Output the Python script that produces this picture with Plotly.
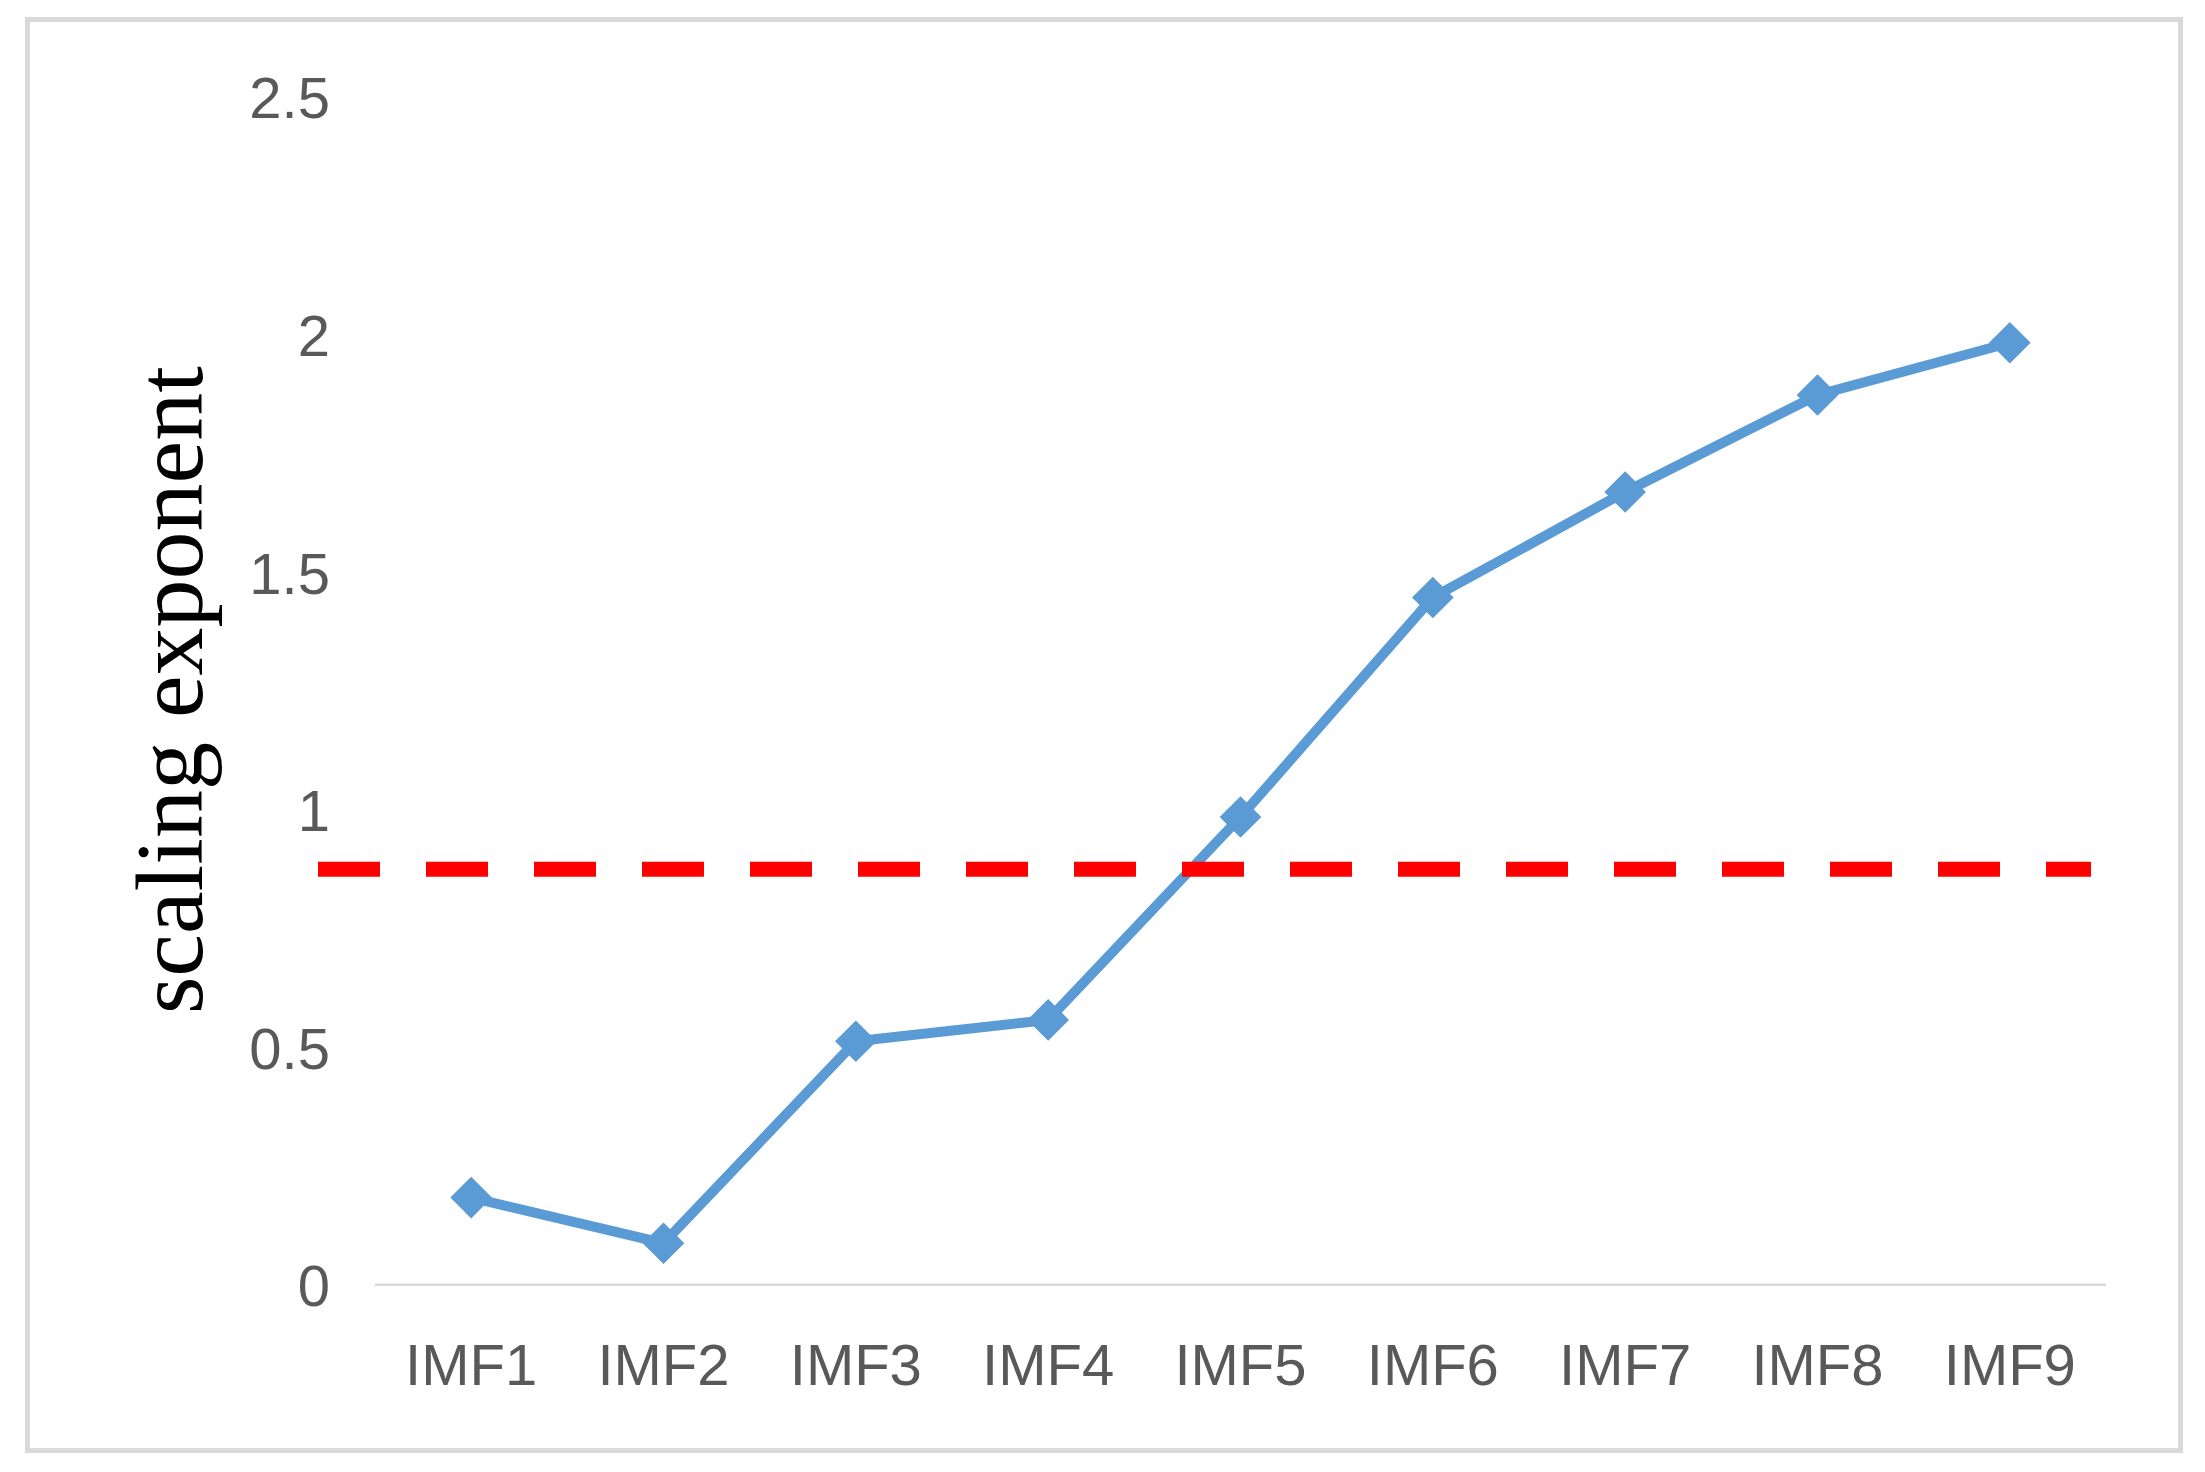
import plotly.graph_objects as go

# ---- data ----
categories = ["IMF1", "IMF2", "IMF3", "IMF4", "IMF5", "IMF6", "IMF7", "IMF8", "IMF9"]
scaling_exponent = [0.186, 0.090, 0.515, 0.560, 0.987, 1.449, 1.671, 1.875, 1.985]
threshold = [0.877]
y_tick_values = [0, 0.5, 1, 1.5, 2, 2.5]
y_tick_labels = ["0", "0.5", "1", "1.5", "2", "2.5"]

# ---- layout geometry (reference-page pixels) ----
OFF = 8  # default body margin of the page
W, H = 2205 - 2 * OFF, 1472 - 2 * OFF
PL, PR, PT, PB = 375 - OFF, 2106 - OFF, 98 - OFF, 1286 - OFF


def px_x(px):
    return (px - OFF - PL) / (PR - PL)


def px_y(py):
    return (PB - (py - OFF)) / (PB - PT)


fig = go.Figure()
fig.add_trace(go.Scatter(
    x=categories,
    y=scaling_exponent,
    mode="lines+markers",
    line=dict(color="#5b9bd5", width=10),
    marker=dict(symbol="diamond", size=32, color="#5b9bd5", line=dict(width=0)),
    showlegend=False,
))

shapes = [
    # x axis line at y = 0
    dict(type="line", xref="paper", yref="y", x0=0, x1=1, y0=0, y1=0,
         line=dict(color="#d9d9d9", width=5), layer="below"),
    # outer chart border
    dict(type="rect", xref="paper", yref="paper",
         x0=px_x(27.5), x1=px_x(2180.5), y0=px_y(1450.5), y1=px_y(19.5),
         line=dict(color="#d9d9d9", width=5), fillcolor="rgba(0,0,0,0)", layer="below"),
    # red dashed threshold line
    dict(type="line", xref="paper", yref="y", x0=px_x(318), x1=px_x(2091),
         y0=threshold[0], y1=threshold[0],
         line=dict(color="#ff0000", width=15, dash="62px,46px"), layer="above"),
]

fig.update_layout(
    width=W, height=H,
    margin=dict(l=PL, r=W - PR, t=PT, b=H - PB, pad=0),
    paper_bgcolor="white", plot_bgcolor="white",
    font=dict(family="Liberation Sans, Arial, sans-serif", size=58, color="#595959"),
    shapes=shapes,
    annotations=[dict(
        text="scaling exponent", textangle=-90, showarrow=False,
        xref="paper", yref="paper", x=px_x(169), y=px_y(690),
        xanchor="center", yanchor="middle",
        font=dict(family="Liberation Serif, Times New Roman, serif", size=96, color="black"),
    )],
)
fig.update_xaxes(
    type="category", range=[-0.5, 8.5], showgrid=False, zeroline=False,
    showline=False, ticks="", ticklabelstandoff=40,
    tickfont=dict(size=58, color="#595959"),
)
fig.update_yaxes(
    range=[0, 2.5], tickvals=y_tick_values, ticktext=y_tick_labels,
    showgrid=False, zeroline=False, showline=False, ticks="",
    ticklabelstandoff=44, tickfont=dict(size=58, color="#595959"),
)

fig.write_html("out.html")
